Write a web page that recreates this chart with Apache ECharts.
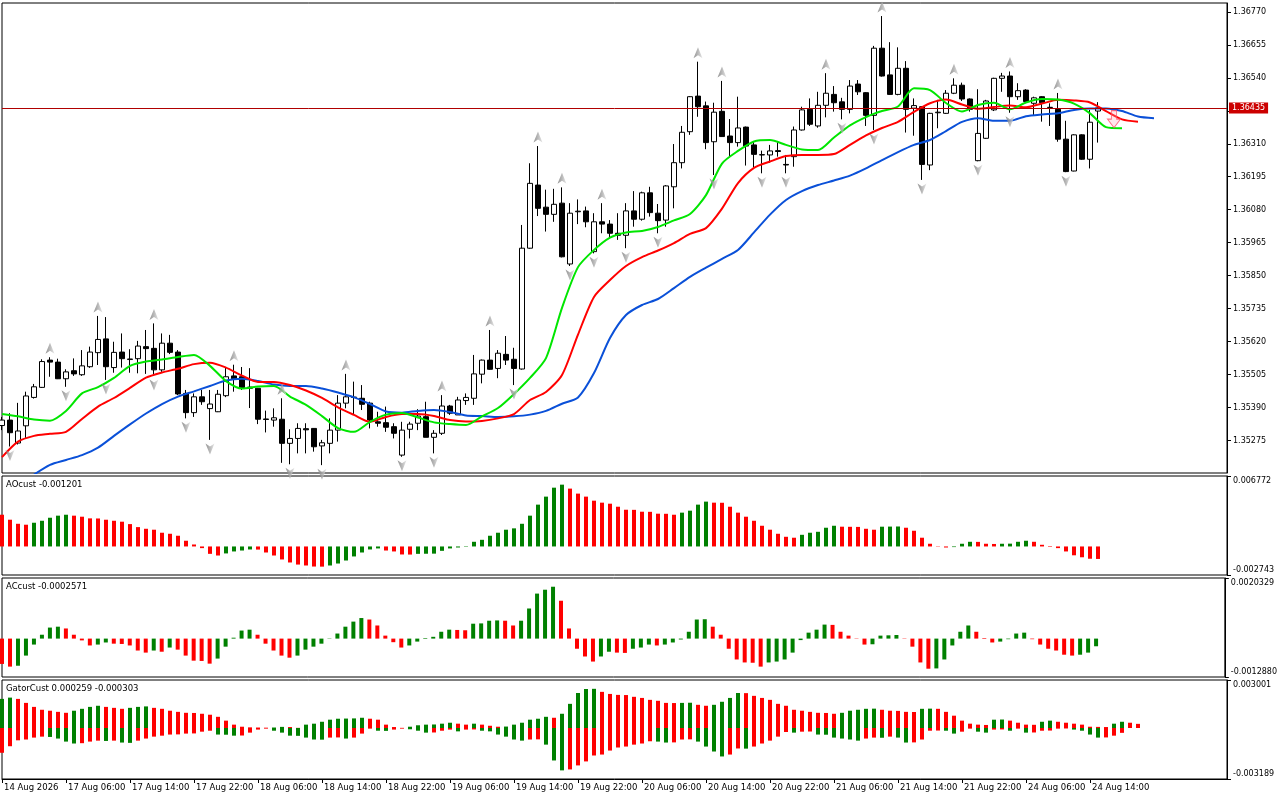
<!DOCTYPE html>
<html><head><meta charset="utf-8">
<script src="https://cdn.jsdelivr.net/npm/echarts@6/dist/echarts.min.js"></script>
<style>html,body{margin:0;padding:0;background:#fff}#c{width:1280px;height:800px}</style>
</head><body><div id="c"></div><script>
// ---------- data (H1 bars, 14 Aug 22:00 .. 24 Aug 15:00) ----------
const opens=[1.35328,1.35347,1.35267,1.35327,1.35426,1.35461,1.35556,1.35549,1.35491,1.35519,
1.35505,1.35533,1.35582,1.35630,1.35530,1.35584,1.35558,1.35561,1.35603,1.35597,
1.35522,1.35615,1.35584,1.35440,1.35373,1.35428,1.35387,1.35376,1.35432,1.35501,
1.35498,1.35462,1.35458,1.35351,1.35347,1.35350,1.35266,1.35283,1.35317,1.35318,
1.35257,1.35266,1.35312,1.35406,1.35427,1.35423,1.35406,1.35341,1.35338,1.35324,
1.35225,1.35315,1.35336,1.35359,1.35287,1.35301,1.35396,1.35365,1.35415,1.35423,
1.35507,1.35556,1.35527,1.35576,1.35559,1.35525,1.35946,1.36166,1.36089,1.36064,
1.36103,1.35891,1.36073,1.36076,1.35934,1.36038,1.36030,1.35998,1.35991,1.36076,
1.36047,1.36139,1.36068,1.36044,1.36160,1.36244,1.36352,1.36476,1.36442,1.36317,
1.36423,1.36337,1.36314,1.36368,1.36306,1.36271,1.36271,1.36286,1.36238,1.36265,
1.36358,1.36430,1.36372,1.36444,1.36482,1.36456,1.36430,1.36518,1.36488,1.36409,
1.36643,1.36550,1.36482,1.36573,1.36434,1.36439,1.36236,1.36418,1.36416,1.36486,
1.36514,1.36466,1.36251,1.36329,1.36428,1.36538,1.36546,1.36474,1.36497,1.36451,
1.36474,1.36437,1.36430,1.36326,1.36215,1.36341,1.36256,1.36424];
const highs=[1.35358,1.35371,1.35407,1.35446,1.35473,1.35559,1.35566,1.35561,1.35524,1.35562,
1.35591,1.35603,1.35710,1.35706,1.35620,1.35649,1.35594,1.35623,1.35661,1.35684,
1.35649,1.35644,1.35591,1.35452,1.35440,1.35452,1.35452,1.35452,1.35530,1.35540,
1.35532,1.35528,1.35459,1.35380,1.35388,1.35423,1.35315,1.35336,1.35336,1.35319,
1.35278,1.35353,1.35434,1.35508,1.35481,1.35469,1.35411,1.35376,1.35394,1.35336,
1.35341,1.35341,1.35385,1.35411,1.35312,1.35434,1.35400,1.35428,1.35440,1.35574,
1.35558,1.35661,1.35591,1.35640,1.35599,1.36027,1.36242,1.36302,1.36150,1.36153,
1.36158,1.36103,1.36116,1.36091,1.36068,1.36103,1.36044,1.36068,1.36103,1.36145,
1.36143,1.36160,1.36100,1.36166,1.36309,1.36372,1.36476,1.36596,1.36457,1.36453,
1.36529,1.36396,1.36474,1.36370,1.36317,1.36286,1.36306,1.36317,1.36271,1.36370,
1.36439,1.36468,1.36491,1.36556,1.36511,1.36470,1.36532,1.36532,1.36490,1.36651,
1.36755,1.36664,1.36646,1.36598,1.36468,1.36441,1.36418,1.36463,1.36497,1.36538,
1.36523,1.36468,1.36500,1.36463,1.36540,1.36557,1.36562,1.36521,1.36500,1.36474,
1.36476,1.36451,1.36487,1.36390,1.36343,1.36343,1.36428,1.36455];
const lows=[1.35312,1.35255,1.35262,1.35285,1.35422,1.35459,1.35498,1.35490,1.35463,1.35501,
1.35501,1.35529,1.35539,1.35487,1.35512,1.35530,1.35512,1.35510,1.35508,1.35501,
1.35515,1.35577,1.35434,1.35353,1.35358,1.35400,1.35278,1.35375,1.35427,1.35446,
1.35452,1.35389,1.35333,1.35304,1.35324,1.35198,1.35193,1.35231,1.35231,1.35237,
1.35190,1.35231,1.35272,1.35388,1.35365,1.35382,1.35318,1.35324,1.35306,1.35283,
1.35219,1.35283,1.35312,1.35287,1.35231,1.35295,1.35365,1.35365,1.35400,1.35400,
1.35475,1.35522,1.35493,1.35539,1.35469,1.35523,1.35944,1.36058,1.36004,1.36038,
1.35914,1.35884,1.36030,1.36019,1.35928,1.35998,1.35981,1.35975,1.35946,1.36021,
1.36042,1.36056,1.35998,1.36021,1.36085,1.36224,1.36341,1.36404,1.36291,1.36201,
1.36334,1.36265,1.36300,1.36234,1.36227,1.36207,1.36244,1.36265,1.36207,1.36230,
1.36356,1.36372,1.36366,1.36402,1.36422,1.36395,1.36416,1.36480,1.36372,1.36358,
1.36544,1.36480,1.36479,1.36349,1.36338,1.36184,1.36218,1.36364,1.36414,1.36483,
1.36459,1.36422,1.36249,1.36327,1.36424,1.36491,1.36418,1.36463,1.36451,1.36410,
1.36387,1.36372,1.36317,1.36211,1.36214,1.36254,1.36224,1.36314];
const closes=[1.35347,1.35303,1.35309,1.35431,1.35463,1.35551,1.35549,1.35491,1.35515,1.35508,
1.35536,1.35584,1.35628,1.35533,1.35583,1.35561,1.35560,1.35605,1.35596,1.35522,
1.35615,1.35583,1.35438,1.35373,1.35428,1.35411,1.35403,1.35437,1.35498,1.35491,
1.35460,1.35458,1.35350,1.35349,1.35355,1.35266,1.35283,1.35318,1.35313,1.35254,
1.35268,1.35312,1.35406,1.35428,1.35426,1.35402,1.35347,1.35336,1.35322,1.35301,
1.35312,1.35333,1.35361,1.35287,1.35301,1.35396,1.35371,1.35417,1.35426,1.35508,
1.35556,1.35524,1.35580,1.35556,1.35527,1.35946,1.36172,1.36085,1.36064,1.36099,
1.35916,1.36068,1.36075,1.36038,1.36038,1.36030,1.35998,1.35991,1.36076,1.36047,
1.36139,1.36070,1.36042,1.36163,1.36244,1.36350,1.36474,1.36439,1.36314,1.36420,
1.36335,1.36314,1.36365,1.36302,1.36273,1.36272,1.36285,1.36283,1.36236,1.36358,
1.36428,1.36378,1.36444,1.36486,1.36453,1.36430,1.36511,1.36491,1.36409,1.36643,
1.36546,1.36482,1.36573,1.36430,1.36443,1.36238,1.36416,1.36420,1.36486,1.36514,
1.36466,1.36430,1.36346,1.36459,1.36538,1.36546,1.36474,1.36495,1.36457,1.36470,
1.36453,1.36436,1.36326,1.36213,1.36341,1.36256,1.36385,1.36435];

// Alligator lines, read every 2 bars (already shifted as drawn)
const lineStep=2;
const jawStart=4;
const jawValues=[1.35157,1.35191,1.35208,1.35225,1.35251,1.35292,1.35332,1.35370,1.35403,1.35429,
1.35447,1.35466,1.35485,1.35491,1.35483,1.35471,1.35466,1.35466,1.35457,1.35443,
1.35426,1.35403,1.35377,1.35373,1.35379,1.35382,1.35375,1.35363,1.35361,1.35358,
1.35360,1.35366,1.35379,1.35404,1.35426,1.35511,1.35633,1.35713,1.35748,1.35769,
1.35807,1.35846,1.35878,1.35909,1.35940,1.36001,1.36063,1.36114,1.36145,1.36166,
1.36182,1.36199,1.36224,1.36253,1.36281,1.36306,1.36323,1.36354,1.36386,1.36399,
1.36390,1.36390,1.36406,1.36412,1.36416,1.36428,1.36433,1.36433,1.36424,1.36405,
1.36399];
const teethStart=0;
const teethValues=[1.35218,1.35272,1.35292,1.35299,1.35306,1.35351,1.35394,1.35424,1.35459,1.35495,
1.35513,1.35526,1.35542,1.35547,1.35530,1.35502,1.35480,1.35480,1.35469,1.35450,
1.35424,1.35391,1.35365,1.35341,1.35358,1.35368,1.35368,1.35361,1.35347,1.35342,
1.35344,1.35353,1.35368,1.35417,1.35445,1.35504,1.35645,1.35776,1.35835,1.35884,
1.35915,1.35938,1.35964,1.35996,1.36016,1.36084,1.36173,1.36226,1.36248,1.36267,
1.36271,1.36271,1.36274,1.36306,1.36339,1.36365,1.36386,1.36421,1.36451,1.36464,
1.36447,1.36432,1.36438,1.36443,1.36437,1.36450,1.36463,1.36461,1.36454,1.36424,
1.36395,1.36387];
const lipsStart=0;
const lipsValues=[1.35368,1.35360,1.35349,1.35345,1.35379,1.35440,1.35462,1.35494,1.35536,1.35551,
1.35558,1.35567,1.35574,1.35536,1.35483,1.35457,1.35464,1.35466,1.35429,1.35400,
1.35361,1.35319,1.35306,1.35341,1.35366,1.35372,1.35356,1.35339,1.35333,1.35330,
1.35360,1.35389,1.35438,1.35494,1.35563,1.35738,1.35880,1.35940,1.35983,1.36001,
1.36006,1.36020,1.36043,1.36065,1.36131,1.36241,1.36285,1.36318,1.36323,1.36306,
1.36290,1.36288,1.36332,1.36374,1.36403,1.36424,1.36440,1.36503,1.36497,1.36452,
1.36422,1.36445,1.36453,1.36430,1.36454,1.36466,1.36464,1.36450,1.36416,1.36368,
1.36364];

const fractalUpBars=[6,12,19,29,35,43,55,61,67,70,75,87,90,103,110,119,126,132];
const fractalDownBars=[1,8,13,19,23,26,36,40,50,54,64,71,74,78,82,89,95,98,105,109,115,122,126,133];
const sellSignal=[[139,1.36396]];
const lastPrice=1.36435;

const ao=[0.00305,0.00257,0.00218,0.00209,0.00228,0.00247,0.00276,0.00296,0.00305,0.00296,
0.00286,0.00270,0.00269,0.00257,0.00247,0.00238,0.00215,0.00186,0.00170,0.00161,
0.00132,0.00122,0.00103,0.00055,0.00019,-0.00016,-0.00071,-0.00087,-0.00067,-0.00048,
-0.00039,-0.00029,-0.00030,-0.00058,-0.00087,-0.00125,-0.00154,-0.00174,-0.00183,-0.00193,
-0.00194,-0.00183,-0.00164,-0.00135,-0.00096,-0.00058,-0.00029,-0.00019,-0.00039,-0.00048,
-0.00077,-0.00078,-0.00071,-0.00070,-0.00069,-0.00042,-0.00019,-0.00010,-0.00004,0.00045,
0.00064,0.00103,0.00132,0.00161,0.00174,0.00218,0.00296,0.00402,0.00479,0.00565,
0.00594,0.00556,0.00508,0.00479,0.00440,0.00421,0.00411,0.00382,0.00353,0.00352,
0.00334,0.00333,0.00315,0.00314,0.00305,0.00325,0.00344,0.00402,0.00431,0.00421,
0.00420,0.00382,0.00325,0.00286,0.00247,0.00199,0.00161,0.00122,0.00093,0.00084,
0.00112,0.00132,0.00141,0.00180,0.00199,0.00190,0.00189,0.00188,0.00170,0.00161,
0.00190,0.00191,0.00192,0.00180,0.00151,0.00084,0.00026,-0.00003,-0.00010,-0.00006,
0.00026,0.00045,0.00044,0.00026,0.00024,0.00026,0.00027,0.00045,0.00055,0.00045,
0.00016,-0.00005,-0.00016,-0.00048,-0.00085,-0.00104,-0.00118,-0.001201];
const ac=[-0.00085,-0.00094,-0.00091,-0.00057,-0.00020,0.00013,0.00037,0.00040,0.00034,0.00013,
-0.00006,-0.00023,-0.00020,-0.00013,-0.00017,-0.00018,-0.00023,-0.00040,-0.00047,-0.00040,
-0.00044,-0.00030,-0.00037,-0.00057,-0.00074,-0.00075,-0.00084,-0.00067,-0.00027,0.00003,
0.00027,0.00030,0.00013,-0.00017,-0.00040,-0.00057,-0.00064,-0.00057,-0.00037,-0.00027,
-0.00017,-0.00001,0.00017,0.00040,0.00057,0.00069,0.00064,0.00044,0.00010,-0.00012,
-0.00030,-0.00023,-0.00010,0.00002,0.00006,0.00023,0.00030,0.00029,0.00028,0.00050,
0.00051,0.00060,0.00061,0.00060,0.00044,0.00060,0.00101,0.00151,0.00164,0.00174,
0.00127,0.00034,-0.00034,-0.00060,-0.00077,-0.00060,-0.00044,-0.00047,-0.00048,-0.00034,
-0.00030,-0.00020,-0.00023,-0.00020,-0.00013,-0.00003,0.00023,0.00064,0.00065,0.00040,
0.00013,-0.00034,-0.00070,-0.00080,-0.00081,-0.00094,-0.00080,-0.00077,-0.00070,-0.00047,
-0.00005,0.00020,0.00030,0.00047,0.00046,0.00023,0.00010,-0.00001,-0.00020,-0.00019,
0.00010,0.00011,0.00012,-0.00001,-0.00027,-0.00080,-0.00101,-0.00100,-0.00070,-0.00023,
0.00023,0.00044,0.00023,0.00002,-0.00013,-0.00010,-0.00002,0.00017,0.00020,-0.00002,
-0.00020,-0.00034,-0.00040,-0.00054,-0.00057,-0.00054,-0.00047,-0.0002571];
const gatorUpper=[0.00182,0.00190,0.00182,0.00157,0.00132,0.00114,0.00108,0.00101,0.00095,0.00108,
0.00120,0.00132,0.00139,0.00132,0.00126,0.00120,0.00126,0.00132,0.00135,0.00126,
0.00120,0.00108,0.00101,0.00095,0.00094,0.00089,0.00083,0.00070,0.00046,0.00021,
0.00008,0.00004,0.00003,0.00002,0.00003,0.00007,0.00006,0.00001,0.00021,0.00027,
0.00039,0.00052,0.00058,0.00059,0.00060,0.00064,0.00058,0.00052,0.00021,0.00006,
0.00001,0.00008,0.00017,0.00021,0.00022,0.00027,0.00033,0.00027,0.00021,0.00027,
0.00021,0.00014,0.00008,0.00009,0.00021,0.00033,0.00052,0.00058,0.00070,0.00064,
0.00089,0.00151,0.00219,0.00244,0.00245,0.00226,0.00213,0.00207,0.00206,0.00195,
0.00188,0.00176,0.00170,0.00157,0.00156,0.00157,0.00158,0.00145,0.00139,0.00145,
0.00164,0.00188,0.00219,0.00218,0.00201,0.00188,0.00176,0.00151,0.00139,0.00114,
0.00108,0.00101,0.00095,0.00094,0.00089,0.00095,0.00108,0.00114,0.00120,0.00121,
0.00114,0.00108,0.00107,0.00101,0.00100,0.00120,0.00121,0.00120,0.00101,0.00077,
0.00046,0.00027,0.00021,0.00019,0.00052,0.00053,0.00046,0.00033,0.00021,0.00020,
0.00039,0.00046,0.00039,0.00033,0.00027,0.00021,0.00008,0.00007,0.00006,0.00027,
0.00039,0.00033,0.000259];
const gatorLower=[-0.00155,-0.00114,-0.00077,-0.00072,-0.00060,-0.00054,-0.00056,-0.00066,-0.00085,-0.00097,
-0.00095,-0.00085,-0.00079,-0.00081,-0.00079,-0.00091,-0.00093,-0.00079,-0.00066,-0.00054,
-0.00048,-0.00041,-0.00040,-0.00035,-0.00034,-0.00023,-0.00017,-0.00041,-0.00042,-0.00048,
-0.00047,-0.00029,-0.00010,-0.00004,-0.00017,-0.00029,-0.00048,-0.00049,-0.00060,-0.00072,
-0.00073,-0.00060,-0.00059,-0.00066,-0.00060,-0.00035,-0.00004,-0.00017,-0.00018,-0.00010,
-0.00004,-0.00008,-0.00017,-0.00029,-0.00028,-0.00017,-0.00010,-0.00021,-0.00010,-0.00009,
-0.00017,-0.00021,-0.00041,-0.00054,-0.00072,-0.00079,-0.00072,-0.00071,-0.00104,-0.00203,
-0.00265,-0.00259,-0.00234,-0.00209,-0.00172,-0.00166,-0.00141,-0.00122,-0.00116,-0.00104,
-0.00097,-0.00083,-0.00085,-0.00091,-0.00090,-0.00072,-0.00071,-0.00085,-0.00116,-0.00147,
-0.00178,-0.00166,-0.00128,-0.00129,-0.00116,-0.00097,-0.00079,-0.00054,-0.00025,-0.00029,
-0.00023,-0.00022,-0.00041,-0.00042,-0.00060,-0.00066,-0.00072,-0.00079,-0.00066,-0.00060,
-0.00061,-0.00054,-0.00060,-0.00091,-0.00090,-0.00072,-0.00017,-0.00016,-0.00017,-0.00035,
-0.00023,-0.00004,-0.00023,-0.00029,-0.00010,-0.00009,-0.00017,-0.00004,-0.00029,-0.00028,
-0.00017,-0.00016,-0.00004,-0.00003,-0.00010,-0.00017,-0.00041,-0.00060,-0.00059,-0.00048,
-0.000303];

const priceTicks=[1.35275,1.35390,1.35505,1.35620,1.35735,1.35850,1.35965,1.36080,1.36195,1.36310,1.36425,1.36540,1.36655,1.36770];
const timeTickBars=[0,8,16,24,32,40,48,56,64,72,80,88,96,104,112,120,128,136];
const timeTickLabels=['14 Aug 2026','17 Aug 06:00','17 Aug 14:00','17 Aug 22:00','18 Aug 06:00','18 Aug 14:00','18 Aug 22:00','19 Aug 06:00','19 Aug 14:00','19 Aug 22:00','20 Aug 06:00','20 Aug 14:00','20 Aug 22:00','21 Aug 06:00','21 Aug 14:00','21 Aug 22:00','24 Aug 06:00','24 Aug 14:00'];
const paneTitles=['AOcust -0.001201','ACcust -0.0002571','GatorCust 0.000259 -0.000303'];
const aoScale=['0.006772','-0.002743'];
const acScale=['0.0020329','-0.0012880'];
const gatorScale=['0.003001','-0.003189'];
const priceRange=[1.351626,1.368005];

// ---------- chart ----------
const FONT='"DejaVu Sans", sans-serif';
const GREEN='#008000', RED='#ff0000';
const XMAX=153.125;
const chart=echarts.init(document.getElementById('c'),null,{renderer:'canvas'});

const candles=opens.map((o,i)=>[i,o,closes[i],lows[i],highs[i]]);
const seq=(start,vals)=>vals.map((v,k)=>[start+k*lineStep,v]);
function colorFn(arr,firstGreen,useAbs){
  return p=>{const i=p.dataIndex; if(i===0) return firstGreen?GREEN:RED;
    const a=useAbs?Math.abs(arr[i]):arr[i], b=useAbs?Math.abs(arr[i-1]):arr[i-1];
    return a>b?GREEN:RED;};
}
const grayGrad=new echarts.graphic.LinearGradient(0,0,1,0,[{offset:0,color:'#7a7a7a'},{offset:0.5,color:'#a8a8a8'},{offset:1,color:'#e2e2e2'}]);
const grids=[
  {left:2,top:3,width:1225,height:470},
  {left:2,top:476,width:1225,height:99},
  {left:2,top:578,width:1225,height:99},
  {left:2,top:680,width:1225,height:99}
].map(g=>Object.assign(g,{show:true,borderColor:'#000',borderWidth:1,backgroundColor:'#fff',containLabel:false}));

const xAxes=[0,1,2,3].map(k=>{
  if(k<3) return {type:'value',gridIndex:k,min:0,max:XMAX,show:false};
  return {type:'value',gridIndex:k,min:0,max:XMAX,position:'bottom',
    axisLine:{show:true,onZero:false,lineStyle:{color:'#000',width:1}},splitLine:{show:false},
    axisTick:{show:true,customValues:timeTickBars,length:4,lineStyle:{color:'#000'}},
    axisLabel:{show:true,customValues:timeTickBars,formatter:v=>timeTickLabels[timeTickBars.indexOf(Math.round(v))]||'',
      align:'left',margin:4,padding:[0,0,0,2],color:'#000',fontFamily:FONT,fontSize:8.5}};
});
function paneY(k,scale){
  const mx=parseFloat(scale[0]), mn=parseFloat(scale[1]);
  return {type:'value',gridIndex:k,position:'right',min:mn,max:mx,
    axisLine:{show:true,onZero:false,lineStyle:{color:'#000',width:1}},splitLine:{show:false},
    axisTick:{show:true,customValues:[mn,mx],length:4,lineStyle:{color:'#000'}},
    axisLabel:{show:true,customValues:[mn,mx],margin:6,color:'#000',fontFamily:FONT,fontSize:8,
      formatter:v=>(v>0?'{t|'+scale[0]+'}':'{b|'+scale[1]+'}'),
      rich:{t:{padding:[10,0,0,0],fontFamily:FONT,fontSize:8,color:'#000'},
            b:{padding:[0,0,10,0],fontFamily:FONT,fontSize:8,color:'#000'}}}};
}
const yAxes=[
  {type:'value',gridIndex:0,position:'right',min:priceRange[0],max:priceRange[1],
   axisLine:{show:true,onZero:false,lineStyle:{color:'#000',width:1}},splitLine:{show:false},
   axisTick:{show:true,customValues:priceTicks,length:4,lineStyle:{color:'#000'}},
   axisLabel:{show:true,customValues:priceTicks,formatter:v=>v.toFixed(5),margin:6,color:'#000',fontFamily:FONT,fontSize:8}},
  paneY(1,aoScale),paneY(2,acScale),paneY(3,gatorScale)
];

const series=[
  {type:'candlestick',xAxisIndex:0,yAxisIndex:0,data:candles,encode:{x:0,y:[1,2,3,4]},barWidth:5,z:2,
   itemStyle:{color:'#ffffff',color0:'#000000',borderColor:'#000000',borderColor0:'#000000',borderWidth:1}},
  {type:'line',xAxisIndex:0,yAxisIndex:0,data:seq(jawStart,jawValues),showSymbol:false,symbol:'none',smooth:0.25,z:3,
   lineStyle:{color:'#0a50d8',width:2},
   markLine:{silent:true,symbol:['none','none'],animation:false,precision:5,data:[{yAxis:lastPrice}],
     lineStyle:{color:'#b00000',width:1,type:'solid'},
     label:{show:true,position:'end',distance:2,formatter:lastPrice.toFixed(5),backgroundColor:'#cc0000',color:'#fff',
       padding:[2,3,1,3],fontFamily:FONT,fontSize:8}}},
  {type:'line',xAxisIndex:0,yAxisIndex:0,data:seq(teethStart,teethValues),showSymbol:false,symbol:'none',smooth:0.25,z:3,
   lineStyle:{color:'#ff0000',width:2}},
  {type:'line',xAxisIndex:0,yAxisIndex:0,data:seq(lipsStart,lipsValues),showSymbol:false,symbol:'none',smooth:0.25,z:3,
   lineStyle:{color:'#00e600',width:2}},
  {type:'scatter',xAxisIndex:0,yAxisIndex:0,data:fractalUpBars.map(i=>[i,highs[i]]),z:4,
   symbol:'path://M5 0 L10 11 L5 8 L0 11 Z',symbolSize:[9,11],symbolOffset:[0,-9],itemStyle:{color:grayGrad}},
  {type:'scatter',xAxisIndex:0,yAxisIndex:0,data:fractalDownBars.map(i=>[i,lows[i]]),z:4,
   symbol:'path://M0 0 L5 3 L10 0 L5 11 Z',symbolSize:[9,11],symbolOffset:[0,9],itemStyle:{color:grayGrad}},
  {type:'scatter',xAxisIndex:0,yAxisIndex:0,data:sellSignal,z:5,
   symbol:'path://M3 0 L7 0 L7 6 L10 6 L5 12 L0 6 L3 6 Z',symbolSize:[13,17],
   itemStyle:{color:'rgba(255,170,185,0.35)',borderColor:'#ff5068',borderWidth:1}},
  {type:'bar',xAxisIndex:1,yAxisIndex:1,data:ao.map((v,i)=>[i,v]),barWidth:4,itemStyle:{color:colorFn(ao,false,false)}},
  {type:'bar',xAxisIndex:2,yAxisIndex:2,data:ac.map((v,i)=>[i,v]),barWidth:4,itemStyle:{color:colorFn(ac,false,false)}},
  {type:'bar',xAxisIndex:3,yAxisIndex:3,data:gatorUpper.map((v,i)=>[i,v]),barWidth:4,barGap:'-100%',itemStyle:{color:colorFn(gatorUpper,true,true)}},
  {type:'bar',xAxisIndex:3,yAxisIndex:3,data:gatorLower.map((v,i)=>[i,v]),barWidth:4,barGap:'-100%',itemStyle:{color:colorFn(gatorLower,false,true)}}
];

const titleY=[484.5,586.5,688.5];
const graphic=paneTitles.map((t,k)=>({type:'text',x:6,y:titleY[k],z:10,
  style:{text:t,fill:'#000',font:'8.5px '+FONT,verticalAlign:'middle',textVerticalAlign:'middle'}}));

chart.setOption({animation:false,backgroundColor:'#fff',grid:grids,xAxis:xAxes,yAxis:yAxes,series:series,graphic:graphic});
</script></body></html>
